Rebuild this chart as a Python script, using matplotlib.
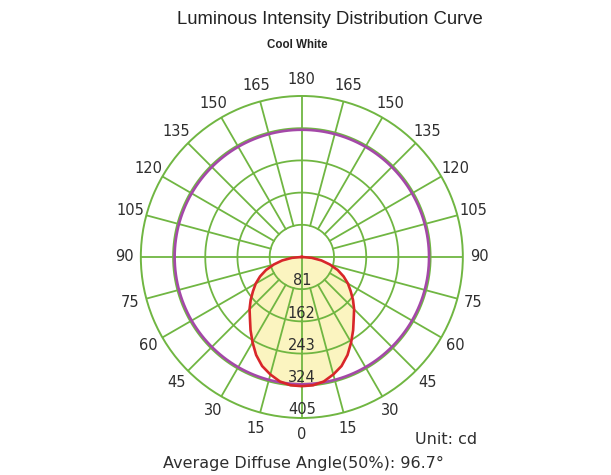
import numpy as np
import matplotlib
matplotlib.use("Agg")
import matplotlib.pyplot as plt


# luminous intensity (cd) of the C0 plane, 0 = straight down
angles_deg = [0, 5, 10, 15, 20, 25, 30, 35, 40, 45, 50, 55, 60, 65, 70, 75, 80, 85, 90]
intensity_cd = [325, 324, 318, 306, 292, 272, 248, 225, 203, 186, 168, 150, 134, 116, 96, 73, 50, 25, 0]

# second plane drawn as a plain circle
c90_cd = 320

ring_values = [81, 162, 243, 324, 405]
angle_labels = [0, 15, 30, 45, 60, 75, 90, 105, 120, 135, 150, 165, 180]

title = "Luminous Intensity Distribution Curve"
subtitle = "Cool White"
unit_text = "Unit: cd"
beam_text = "Average Diffuse Angle(50%): 96.7°"

GREEN = "#70b642"
PURPLE = "#a448a8"
RED = "#d8262a"
FILL = "#fbf4c0"
TEXT = "#2e2e2e"

R_MAX = ring_values[-1]


# =========================================================
# FIGURE
# =========================================================

fig = plt.figure(figsize=(6.11, 4.75), dpi=100)

fig.text(0.54, 0.958, title, ha="center", va="center",
         fontsize=13.3, family="Liberation Sans", color="#222222")

fig.text(0.486, 0.905, subtitle, ha="center", va="center",
         fontsize=8.3, fontweight="bold", family="Liberation Sans", color="#222222")

ax = fig.add_axes([0.2305, 0.120, 0.527, 0.678], projection="polar")

ax.set_theta_zero_location("S")
ax.set_theta_direction(1)
ax.set_ylim(0, R_MAX)
ax.set_xticks([])
ax.set_yticks([])
ax.grid(False)
ax.spines["polar"].set_color(GREEN)
ax.spines["polar"].set_linewidth(1.4)

# C0 curve, mirrored to both sides
half_t = np.radians(angles_deg)
theta = np.concatenate([-half_t[::-1], half_t[1:]])
r = np.concatenate([intensity_cd[::-1], intensity_cd[1:]])

ax.fill(theta, r, color=FILL, zorder=1, lw=0)

# grid: rings and spokes
full = np.linspace(0, 2 * np.pi, 361)
for v in ring_values[:-1]:
    ax.plot(full, np.full_like(full, v), color=GREEN, lw=1.3, zorder=2)

for a in range(0, 360, 15):
    t = np.radians(a)
    start = 0 if a % 90 == 0 else ring_values[0]
    ax.plot([t, t], [start, R_MAX], color=GREEN, lw=1.3, zorder=2)

ax.plot(full, np.full_like(full, c90_cd), color=PURPLE, lw=1.9, zorder=3)
ax.plot(theta, r, color=RED, lw=1.9, zorder=4)

# angle labels around the outside
for a in angle_labels:
    for s in ([1] if a in (0, 180) else [1, -1]):
        ax.text(np.radians(s * a), 447, str(a), ha="center", va="center",
                fontsize=10.5, color=TEXT, clip_on=False)

# ring values along the 0 line
for v in ring_values:
    ax.text(0, v - 21, str(v), ha="center", va="center",
            fontsize=10.5, color=TEXT, zorder=5)

fig.text(446 / 611, 1 - 440 / 475, unit_text, ha="center", va="center",
         fontsize=11.5, color=TEXT)

fig.text(303 / 611, 1 - 463 / 475, beam_text, ha="center", va="center",
         fontsize=11.5, color=TEXT)

fig.savefig("out.png", dpi=100)
